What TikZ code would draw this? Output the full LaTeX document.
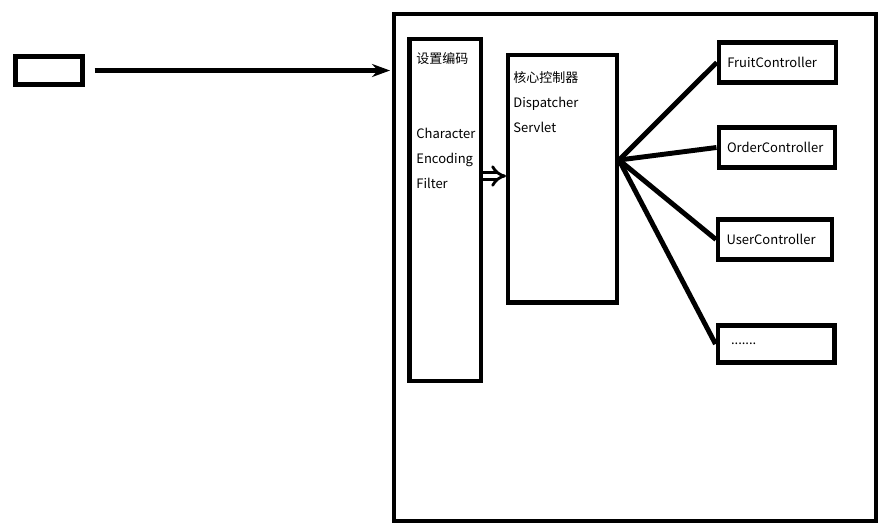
\documentclass[tikz,border=0pt]{standalone}
\usepackage{fontspec}
\setmainfont{Noto Sans CJK SC}
\usetikzlibrary{positioning,arrows.meta}

\begin{document}
\begin{tikzpicture}[x=0.02cm,y=-0.02cm,
  font=\fontsize{7.4}{14.2}\selectfont,
  box/.style={draw,line width=2.3pt,inner sep=0pt},
  ctl/.style={box,minimum height=0.8cm,inner xsep=0.17cm,text width=2.01cm,align=left},
  txt/.style={anchor=base west,align=left,inner sep=0pt},
  ar/.style={-{Stealth[length=0.36cm,width=0.26cm]},line width=2.3pt},
  fat/.style={-{Implies[length=0.16cm,width=0.36cm]},line width=1.6pt,double=white,double distance=2.4pt},
  hub/.style={line width=2.8pt}]
\useasboundingbox (0,0) rectangle (895,531);
\node[box,minimum width=1.34cm,minimum height=0.56cm] (src) at (49,70.5) {};
\node[box,minimum width=9.64cm,minimum height=10.14cm] (web) at (635,267.5) {};
\node[box,minimum width=1.43cm,minimum height=6.85cm] (filter) at (445.25,209.75) {};
\node[box,minimum width=2.18cm,minimum height=4.95cm] (disp) at (562.5,178.75) {};
% base anchor sits on the last line
\node[txt] (filtert) at (416,188) {设置编码\\[1cm]Character\\Encoding\\Filter};
\node[txt] (dispt) at (513,132) {核心控制器\\Dispatcher\\Servlet};
\node[ctl] (fruit) at (777.5,62.5) {FruitController};
\node[ctl,text width=1.99cm] (order) at (776.75,147.5) {OrderController};
\node[ctl,text width=1.94cm] (user) at (775,239.5) {UserController};
\node[ctl,minimum height=0.74cm,inner xsep=0.27cm,text width=1.8cm] (more) at (776,344) {.......};
\coordinate (hubpt) at (619,160);
\draw[ar,shorten <=0.2cm,shorten >=0.04cm] (src.east) -- (src.east -| web.west);
\draw[fat] (filter.east |- 0,176) -- (disp.west |- 0,176);
\foreach \n in {fruit,order,user,more} {\draw[hub] (hubpt) -- (\n.west);}
\end{tikzpicture}
\end{document}
